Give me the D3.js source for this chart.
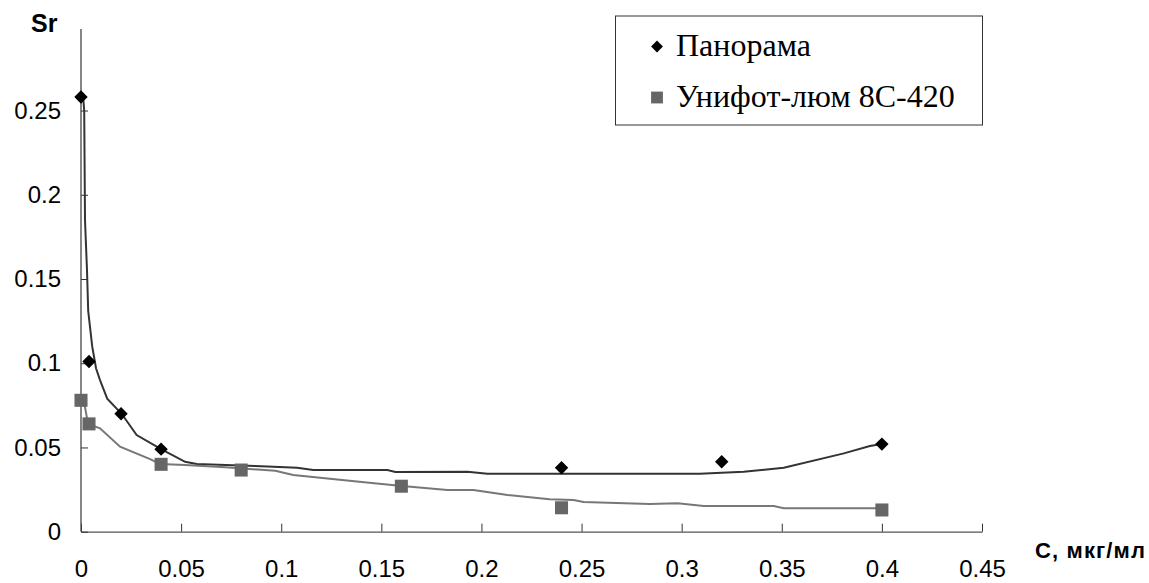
<!DOCTYPE html>
<html>
<head>
<meta charset="utf-8">
<script src="https://cdn.jsdelivr.net/npm/d3@7"></script>
<style>
  body { margin: 0; background: white; }
  svg { display: block; }
</style>
</head>
<body>
<div id="chart"></div>
<script>
// measured points
const panoramaX = [0, 0.004, 0.02, 0.04, 0.24, 0.32, 0.4]
const panoramaY = [0.258, 0.101, 0.07, 0.049, 0.038, 0.0415, 0.052]
const unifotX = [0, 0.004, 0.04, 0.08, 0.16, 0.24, 0.4]
const unifotY = [0.078, 0.064, 0.040, 0.0366, 0.027, 0.0142, 0.0129]

// smoothed curves
const panoramaCurveX = [0.0012, 0.0016, 0.002, 0.003, 0.0036, 0.0056, 0.0075, 0.0095, 0.0131, 0.0203, 0.0278, 0.04, 0.052, 0.0578, 0.087, 0.108, 0.116, 0.153, 0.157, 0.193, 0.203, 0.309, 0.331, 0.351, 0.381, 0.394, 0.4]
const panoramaCurveY = [0.256, 0.25, 0.185, 0.155, 0.131, 0.11, 0.097, 0.09, 0.079, 0.07, 0.0574, 0.049, 0.0415, 0.0402, 0.039, 0.038, 0.0366, 0.0366, 0.0354, 0.0356, 0.0344, 0.0344, 0.0356, 0.038, 0.0465, 0.0509, 0.052]
const unifotCurveX = [0, 0.002, 0.0035, 0.0095, 0.0195, 0.0345, 0.0395, 0.052, 0.072, 0.097, 0.106, 0.139, 0.159, 0.183, 0.196, 0.213, 0.234, 0.246, 0.251, 0.284, 0.298, 0.311, 0.346, 0.351, 0.4]
const unifotCurveY = [0.0782, 0.074, 0.064, 0.0614, 0.0505, 0.0431, 0.0402, 0.0396, 0.0382, 0.0362, 0.0337, 0.0297, 0.0273, 0.0248, 0.0248, 0.0218, 0.0192, 0.0188, 0.0176, 0.0164, 0.0169, 0.0153, 0.0153, 0.0139, 0.0139]

const xTicks = [0, 0.05, 0.1, 0.15, 0.2, 0.25, 0.3, 0.35, 0.4, 0.45]
const yTicks = [0, 0.05, 0.1, 0.15, 0.2, 0.25]
const seriesNames = ["Панорама", "Унифот-люм 8С-420"]

const W = 1149, H = 583
const colorPan = "#000"
const colorPanLine = "#333"
const colorUni = "#666"
const colorUniLine = "#777"

const svg = d3.select("#chart").append("svg")
    .attr("width", W)
    .attr("height", H)

const x = d3.scaleLinear().domain([0, 0.45]).range([81, 982])
const y = d3.scaleLinear().domain([0, 0.3]).range([531.7, 26.3])

const fmt = d => String(+d.toFixed(2))

// axes
const xAxis = svg.append("g")
    .attr("transform", "translate(0," + y(0) + ")")
    .call(d3.axisBottom(x).tickValues(xTicks).tickFormat(fmt)
        .tickSizeInner(-8).tickSizeOuter(0).tickPadding(28))
xAxis.select(".domain").attr("stroke", "#555").attr("stroke-width", 1.3)
xAxis.selectAll(".tick line").attr("stroke", "#333")
xAxis.selectAll("text")
    .attr("font-family", "Liberation Sans, Arial, sans-serif")
    .attr("font-size", 24)
    .attr("fill", "#000")

const yAxis = svg.append("g")
    .attr("transform", "translate(" + x(0) + ",0)")
    .call(d3.axisLeft(y).tickValues(yTicks).tickFormat(fmt)
        .tickSizeInner(-7).tickSizeOuter(0).tickPadding(20))
yAxis.select(".domain").remove()
yAxis.append("line")
    .attr("x1", 0).attr("x2", 0)
    .attr("y1", y(0)).attr("y2", 29)
    .attr("stroke", "#444").attr("stroke-width", 1.3)
yAxis.selectAll(".tick line").attr("stroke", "#333")
yAxis.selectAll("text")
    .attr("font-family", "Liberation Sans, Arial, sans-serif")
    .attr("font-size", 24)
    .attr("fill", "#000")

// axis titles
svg.append("text")
    .attr("x", 31).attr("y", 32)
    .attr("font-family", "Liberation Sans, Arial, sans-serif")
    .attr("font-weight", "bold")
    .attr("font-size", 25)
    .text("Sr")

svg.append("text")
    .attr("x", 1145).attr("y", 558)
    .attr("text-anchor", "end")
    .attr("font-family", "Liberation Sans, Arial, sans-serif")
    .attr("font-weight", "bold")
    .attr("font-size", 22)
    .attr("textLength", 110)
    .text("С, мкг/мл")

// curves
const line = d3.line().x(d => x(d[0])).y(d => y(d[1]))

svg.append("path")
    .datum(d3.zip(panoramaCurveX, panoramaCurveY))
    .attr("fill", "none")
    .attr("stroke", colorPanLine)
    .attr("stroke-width", 2)
    .attr("d", line)

svg.append("path")
    .datum(d3.zip(unifotCurveX, unifotCurveY))
    .attr("fill", "none")
    .attr("stroke", colorUniLine)
    .attr("stroke-width", 2)
    .attr("d", line)

// markers
const diamond = d3.symbol().type(d3.symbolSquare).size(90)
const square = d3.symbol().type(d3.symbolSquare).size(170)

svg.append("g").selectAll("path")
    .data(d3.zip(unifotX, unifotY))
    .join("path")
    .attr("d", square)
    .attr("fill", colorUni)
    .attr("transform", d => "translate(" + x(d[0]) + "," + y(d[1]) + ")")

svg.append("g").selectAll("path")
    .data(d3.zip(panoramaX, panoramaY))
    .join("path")
    .attr("d", diamond)
    .attr("fill", colorPan)
    .attr("transform", d => "translate(" + x(d[0]) + "," + y(d[1]) + ") rotate(45)")

// legend
const legend = svg.append("g")
legend.append("rect")
    .attr("x", 615.5).attr("y", 16)
    .attr("width", 367).attr("height", 109)
    .attr("fill", "white")
    .attr("stroke", "#333")
    .attr("stroke-width", 1)

const legendRows = [
    {name: seriesNames[0], y: 46.5, sym: d3.symbol().type(d3.symbolSquare).size(70), rot: 45, fill: colorPan},
    {name: seriesNames[1], y: 97.5, sym: d3.symbol().type(d3.symbolSquare).size(140), rot: 0, fill: colorUni}
]
legendRows.forEach(r => {
    legend.append("path")
        .attr("d", r.sym)
        .attr("fill", r.fill)
        .attr("transform", "translate(657," + r.y + ") rotate(" + r.rot + ")")
    legend.append("text")
        .attr("x", 676)
        .attr("y", r.y + 9.5)
        .attr("font-family", "Liberation Serif, Times New Roman, serif")
        .attr("font-size", 32)
        .text(r.name)
})
</script>
</body>
</html>
